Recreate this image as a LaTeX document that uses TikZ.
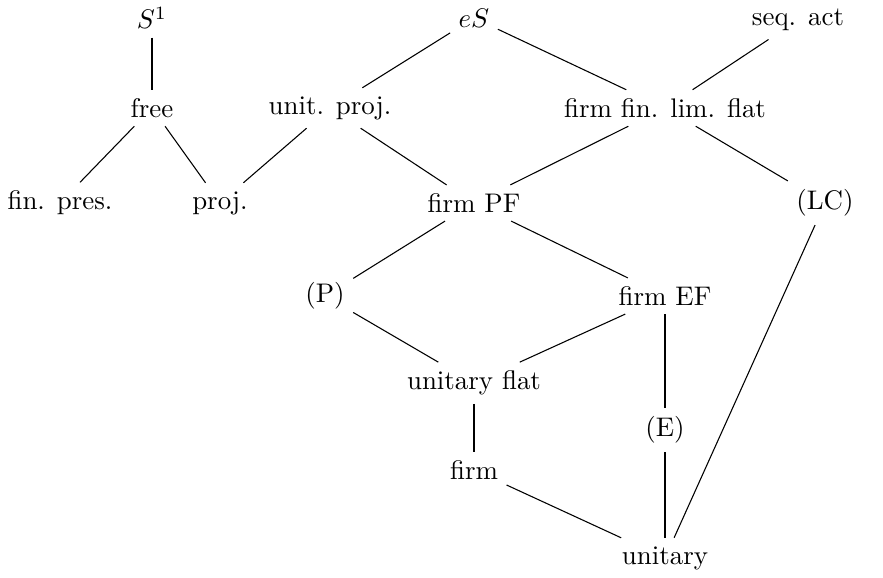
\documentclass[tikz,border=0pt]{standalone}
\begin{document}
\begin{tikzpicture}[x=0.3717pt,y=-0.3717pt,
  every node/.style={inner sep=3pt},
  edge/.style={line width=0.4pt}]
\useasboundingbox (0,0) rectangle (883,578);
\node (S1) at (152,18) {$S^1$};
\node (eS) at (474,18) {$eS$};
\node (seq) at (798,20) {seq. act};
\node (free) at (152,108) {free};
\node (up) at (330,108) {unit. proj.};
\node (ffl) at (665,108) {firm fin. lim. flat};
\node (fp) at (60,203) {fin. pres.};
\node (proj) at (220,203) {proj.};
\node (fpf) at (474,203) {firm PF};
\node (LC) at (825,203) {(LC)};
\node (P) at (325,296) {(P)};
\node (fef) at (665,296) {firm EF};
\node (uf) at (474,383) {unitary flat};
\node (E) at (665,430) {(E)};
\node (firm) at (474,470) {firm};
\node (un) at (665,558) {unitary};
\draw[edge] (S1) -- (free);
\draw[edge] (free) -- (fp);
\draw[edge] (free) -- (proj);
\draw[edge] (up) -- (proj);
\draw[edge] (eS) -- (up);
\draw[edge] (eS) -- (ffl);
\draw[edge] (seq) -- (ffl);
\draw[edge] (up) -- (fpf);
\draw[edge] (ffl) -- (fpf);
\draw[edge] (ffl) -- (LC);
\draw[edge] (fpf) -- (P);
\draw[edge] (fpf) -- (fef);
\draw[edge] (P) -- (uf);
\draw[edge] (fef) -- (uf);
\draw[edge] (fef) -- (E);
\draw[edge] (uf) -- (firm);
\draw[edge] (E) -- (un);
\draw[edge] (firm) -- (un);
\draw[edge] (LC) -- (un);
\end{tikzpicture}
\end{document}
